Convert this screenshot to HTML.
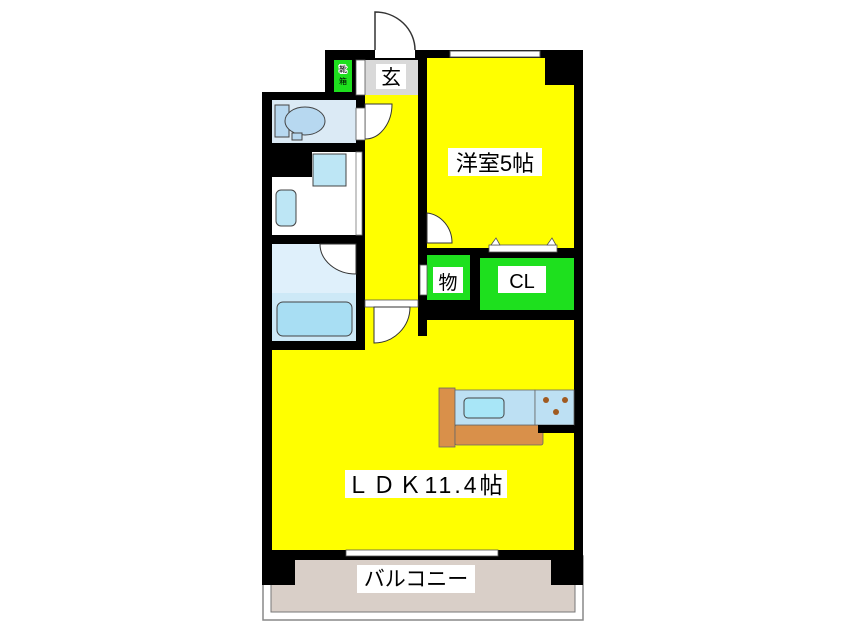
<!DOCTYPE html>
<html><head><meta charset="utf-8"><style>
body{margin:0;background:#fff;width:846px;height:634px;overflow:hidden}
text{font-family:"Liberation Sans","Noto Sans CJK JP",sans-serif}
</style></head><body>
<svg width="846" height="634" xmlns="http://www.w3.org/2000/svg">
<!-- outer frame balcony -->
<rect x="263" y="556" width="320" height="64" fill="#fff" stroke="#888" stroke-width="1.5"/>
<rect x="271" y="556" width="304" height="56" fill="#d9cfc8" stroke="#777" stroke-width="1"/>
<!-- walls black base -->
<rect x="325" y="50" width="258" height="60" fill="#000"/>
<rect x="262" y="92" width="321" height="468" fill="#000"/>
<rect x="262" y="555" width="33" height="30" fill="#000"/>
<rect x="551" y="555" width="32" height="30" fill="#000"/>
<!-- entry door opening -->
<rect x="375" y="50" width="40" height="8" fill="#fff"/>
<path d="M375 50 L375 12 A40 38 0 0 1 415 50" fill="#fff" stroke="#333" stroke-width="1.5"/>
<!-- window top -->
<rect x="450" y="51" width="90" height="6" fill="#fff" stroke="#555" stroke-width="1"/>
<!-- genkan -->
<rect x="365" y="60" width="53" height="35" fill="#d9d9d9"/>
<rect x="334" y="60" width="18" height="32" fill="#1ee01e"/>
<text x="343" y="72" font-size="8" text-anchor="middle" fill="#fff" stroke="#fff" stroke-width="2">靴</text>
<text x="343" y="72" font-size="8" text-anchor="middle">靴</text>
<text x="343" y="84" font-size="8" text-anchor="middle">箱</text>
<rect x="356" y="60" width="9" height="35" fill="#fff" stroke="#555" stroke-width="0.8"/>
<rect x="376" y="64" width="30" height="25" fill="#fff"/>
<text x="391" y="84" font-size="20" text-anchor="middle">玄</text>
<!-- hallway -->
<rect x="365" y="95" width="53" height="205" fill="#ffff00"/>
<path d="M365 104 L392 104 A27 35 0 0 1 365 139 Z" fill="#fff" stroke="#333" stroke-width="1"/>
<!-- western room -->
<rect x="427" y="58" width="147" height="190" fill="#ffff00"/>
<rect x="545" y="58" width="29" height="27" fill="#000"/>
<rect x="448" y="148" width="94" height="28" fill="#fff"/>
<text x="495" y="171" font-size="22" text-anchor="middle">洋室5帖</text>
<path d="M427 213 A28 30 0 0 1 452 243 L427 243 Z" fill="#fff" stroke="#333" stroke-width="1"/>
<rect x="489" y="245" width="68" height="7" fill="#fff" stroke="#555" stroke-width="0.8"/>
<path d="M491 245 L496 238 L500 245 Z M547 245 L552 238 L556 245 Z" fill="#fff" stroke="#555" stroke-width="0.8"/>
<!-- closets -->
<rect x="427" y="255" width="43" height="45" fill="#1ee01e"/>
<rect x="433" y="267" width="30" height="26" fill="#fff"/>
<text x="448" y="289" font-size="19" text-anchor="middle">物</text>
<rect x="420" y="265" width="7" height="30" fill="#fff" stroke="#555" stroke-width="0.8"/>
<rect x="480" y="258" width="94" height="52" fill="#1ee01e"/>
<rect x="498" y="266" width="48" height="27" fill="#fff"/>
<text x="522" y="288" font-size="20" text-anchor="middle">CL</text>
<!-- toilet -->
<rect x="272" y="100" width="84" height="43" fill="#dbeaf5"/>
<rect x="275" y="105" width="14" height="32" fill="#b7d8f0" stroke="#444" stroke-width="1"/>
<ellipse cx="305" cy="121" rx="20" ry="14" fill="#b7d8f0" stroke="#444" stroke-width="1"/>
<rect x="292" y="133" width="10" height="7" fill="#b7d8f0" stroke="#444" stroke-width="1"/>
<rect x="356" y="108" width="9" height="32" fill="#fff" stroke="#555" stroke-width="0.8"/>
<!-- washroom -->
<rect x="272" y="152" width="84" height="83" fill="#fff"/>
<rect x="272" y="152" width="40" height="25" fill="#000"/>
<rect x="313" y="154" width="33" height="32" fill="#bde6f5" stroke="#444" stroke-width="1"/>
<rect x="276" y="190" width="20" height="36" rx="5" fill="#bde6f5" stroke="#444" stroke-width="1"/>
<rect x="356" y="152" width="6" height="83" fill="#fff" stroke="#777" stroke-width="0.8"/>
<!-- bath -->
<rect x="272" y="244" width="84" height="97" fill="#dff0fb"/>
<path d="M320 244 A36 30 0 0 0 356 274 L356 244 Z" fill="#fff" stroke="#333" stroke-width="1"/>
<rect x="272" y="293" width="84" height="48" fill="#cde9f7"/>
<rect x="277" y="302" width="75" height="34" rx="6" fill="#a8def3" stroke="#444" stroke-width="1"/>
<!-- LDK -->
<rect x="272" y="350" width="302" height="200" fill="#ffff00"/>
<rect x="365" y="306" width="53" height="50" fill="#ffff00"/>
<rect x="418" y="320" width="156" height="35" fill="#ffff00"/>
<rect x="418" y="300" width="9" height="36" fill="#000"/>
<rect x="365" y="300" width="53" height="7" fill="#fff" stroke="#555" stroke-width="0.8"/>
<path d="M374 307 L410 307 A36 36 0 0 1 374 343 Z" fill="#fff" stroke="#333" stroke-width="1"/>
<!-- kitchen -->
<rect x="439" y="388" width="16" height="59" fill="#d9904a" stroke="#666" stroke-width="0.8"/>
<rect x="455" y="425" width="88" height="20" rx="2" fill="#d9904a" stroke="#666" stroke-width="0.8"/>
<rect x="455" y="390" width="80" height="35" fill="#bde0f3" stroke="#666" stroke-width="0.8"/>
<rect x="464" y="398" width="40" height="20" rx="4" fill="#a8e6f7" stroke="#444" stroke-width="1"/>
<rect x="535" y="390" width="39" height="35" fill="#bde0f3" stroke="#666" stroke-width="0.8"/>
<rect x="538" y="425" width="36" height="8" fill="#000"/>
<circle cx="546" cy="400" r="3" fill="#a05a20"/><circle cx="565" cy="400" r="3" fill="#a05a20"/><circle cx="556" cy="412" r="3" fill="#a05a20"/>
<rect x="345" y="470" width="162" height="28" fill="#fff"/>
<text x="426" y="493" font-size="23" text-anchor="middle" letter-spacing="3">ＬＤＫ11.4帖</text>
<!-- balcony window -->
<rect x="346" y="550" width="152" height="6" fill="#fff" stroke="#555" stroke-width="0.8"/>
<rect x="357" y="565" width="118" height="28" fill="#fff"/>
<text x="416" y="586" font-size="21" text-anchor="middle">バルコニー</text>
</svg>
</body></html>
